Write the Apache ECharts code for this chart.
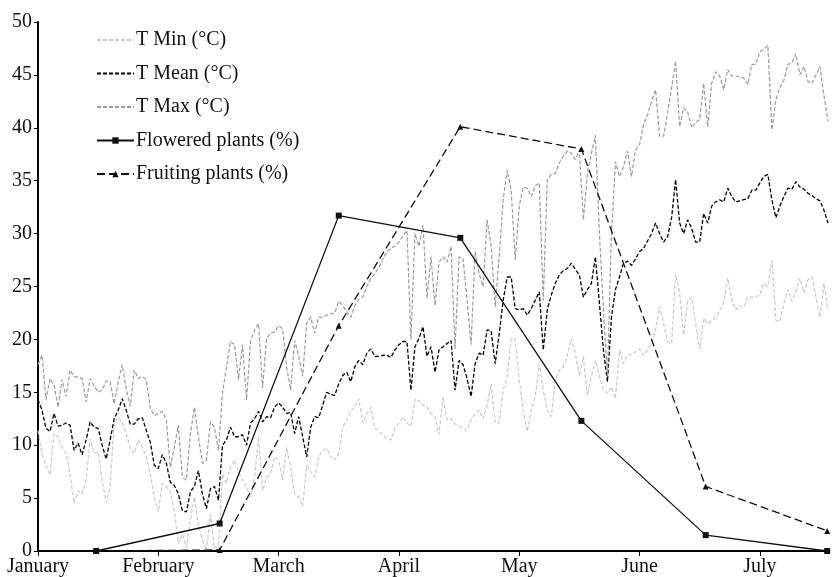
<!DOCTYPE html>
<html>
<head>
<meta charset="utf-8">
<script src="https://cdn.jsdelivr.net/npm/echarts@6/dist/echarts.min.js"></script>
<style>
  html, body { margin: 0; padding: 0; background: #fff; }
  #chart { width: 832px; height: 577px; }
</style>
</head>
<body>
<div id="chart"></div>
<script>
// month labels, one tick every 30 days
var months = ['January', 'February', 'March', 'April', 'May', 'June', 'July'];

// daily temperatures from 1 January, one value per day (°C)
var tMin = [11.4, 9.1, 8.0, 7.2, 11.1, 10.8, 9.8, 9.2, 7.3, 4.5, 5.7, 5.4, 6.7, 10.6, 9.2, 9.4, 6.7, 4.6, 6.1, 12.1,
    12.7, 12.1, 11.1, 9.7, 9.2, 10.5, 9.8, 8.9, 7.3, 5.1, 3.7, 6.4, 6.1, 5.6, 3.8, 0.7, 1.6,
    0.3, 3.0, 5.1, 2.5, 1.0, 0.0, 3.5, 0.2, 0.5, 7.3, 6.4, 7.9, 8.6, 7.5, 6.7, 6.1, 5.1, 7.0, 10.8, 5.7, 7.0, 7.3,
    8.9, 8.6, 6.7, 9.8, 7.9, 5.4, 5.1, 4.2, 8.1, 7.5, 7.0, 8.9, 9.5,
    9.7, 8.9, 8.6, 9.2, 11.7, 12.4, 13.2, 13.6, 14.4, 12.1, 13.0, 13.6, 11.6, 11.3, 11.0, 10.6, 10.5, 11.6, 12.1,
    12.7, 12.1, 11.8, 14.4, 14.2, 13.8, 13.6, 13.0, 12.7, 11.0, 14.6, 12.4, 12.5, 12.0, 11.8, 11.6, 11.4, 12.4,
    13.0, 13.3, 12.5, 13.8, 15.8, 12.1, 12.1, 15.2, 16.5, 20.1, 20.0, 16.2, 13.3, 11.3, 13.3, 14.6, 17.7, 15.2,
    13.3, 12.7, 16.2, 17.1, 17.4, 18.5, 20.1, 18.7, 16.5, 18.4, 14.7, 16.5, 18.0, 16.5, 15.2, 14.9, 15.5, 14.4,
    19.0, 17.7,
    18.5, 18.6, 18.8, 19.1, 18.5, 19.0, 19.6, 20.9, 23.1, 21.5, 19.8, 19.6, 26.2, 24.4, 20.4, 23.6, 24.0, 21.5,
    19.0, 22.0, 21.5, 21.8, 22.0, 22.8,
    23.5, 25.8, 23.7, 22.8, 23.2, 23.0, 24.0, 24.0, 24.0, 24.2, 25.3, 25.0, 27.5, 21.8, 21.7, 23.4, 24.7, 23.6,
    24.5, 25.8, 24.4, 25.6, 25.9, 24.0, 22.1, 25.3, 22.8];

var tMean = [14.3, 13.3, 11.6, 11.3, 13.0, 11.8, 11.9, 12.1, 11.9, 9.5, 10.2, 9.1, 10.5, 12.2, 11.7, 11.6, 10.0, 8.7,
    10.5, 12.5, 13.3, 14.4, 13.3, 12.0, 12.0, 12.5, 12.6, 11.4, 10.3, 8.1, 7.8, 9.1, 8.3, 6.5, 6.2, 5.4, 3.8,
    3.7, 5.6, 6.1, 7.6, 5.4, 4.0, 5.9, 6.1, 4.8, 10.0, 10.5, 11.7, 10.8, 10.8, 11.0, 10.0, 12.1, 12.5, 13.2, 12.2,
    12.7, 12.6, 13.6, 14.0, 13.6, 13.0, 13.1, 11.1, 12.7, 10.8, 8.9, 11.7, 12.7, 12.6, 13.8,
    15.0, 14.8, 14.7, 15.8, 16.6, 16.9, 16.0, 17.4, 18.0, 17.6, 18.7, 19.1, 18.4, 18.4, 18.5, 18.5, 18.3, 19.0,
    19.5, 19.8, 19.8, 15.2, 19.3, 20.1, 21.2, 18.4, 19.3, 16.9, 19.0, 19.3, 19.6, 19.9, 15.2, 18.0, 17.6, 16.3, 14.6,
    17.7, 18.7, 18.5, 20.9, 20.8, 17.7, 20.5, 23.7, 25.9, 25.9, 22.9, 22.8, 22.9, 22.3, 22.9, 23.7, 24.5, 19.0,
    22.8, 24.2, 25.3, 26.1, 26.5, 26.7, 27.2, 26.6, 26.1, 24.0, 24.7, 25.3, 27.8, 23.4, 19.0, 16.0, 22.1, 24.7,
    25.9, 27.2,
    27.4, 27.0, 27.6, 28.3, 28.6, 29.3, 30.0, 31.0, 30.0, 29.2, 29.7, 31.5, 35.1, 31.0, 30.0, 31.3, 30.5, 29.2,
    29.2, 31.9, 31.0, 32.6, 33.0, 33.2,
    33.0, 34.3, 33.5, 33.0, 33.1, 33.2, 33.3, 34.1, 34.1, 34.8, 35.4, 35.6, 33.2, 31.5, 32.6, 33.5, 34.3, 34.2,
    34.9, 34.4, 34.2, 33.8, 33.6, 33.3, 33.1, 32.2, 31.0];

var tMax = [17.6, 18.5, 14.3, 16.3, 15.7, 13.6, 16.2, 14.6, 17.1, 16.5, 16.4, 16.3, 14.1, 16.3, 15.6, 15.0, 15.2, 16.1,
    16.0, 13.9, 16.0, 17.6, 15.3, 13.7, 17.1, 16.3, 16.5, 16.2, 13.5, 12.8, 13.0, 13.2, 12.4, 7.9, 9.8, 11.9, 7.0,
    6.7, 11.0, 13.6, 10.8, 8.3, 8.6, 12.2, 11.7, 9.5, 14.9, 17.4, 19.8, 19.5, 16.2, 19.5, 14.3, 19.8, 20.9, 21.5,
    15.4, 20.1, 20.6, 20.7, 21.3, 21.0, 17.4, 15.2, 19.9, 18.4, 16.5, 21.5, 22.1, 20.6, 22.1, 22.1,
    22.3, 22.4, 22.5, 23.6, 23.2, 22.6, 22.1, 23.2, 23.8, 24.0, 25.0, 25.8, 26.2, 26.8, 27.6, 28.3, 28.6, 28.8,
    29.2, 29.8, 30.3, 20.0, 30.0, 28.8, 30.8, 23.9, 27.8, 23.2, 27.3, 27.8, 27.3, 28.8, 19.1, 27.8, 27.6, 23.7,
    19.5, 28.3,
    26.2, 25.0, 31.3, 28.8, 23.1, 27.8, 33.2, 36.0, 34.1, 27.5, 32.6, 34.4, 34.3, 33.5, 34.5, 34.8, 23.7, 35.1,
    35.6, 35.7, 36.7, 37.3, 37.8, 37.6, 37.0, 37.9, 31.3, 35.7, 37.6, 39.3, 30.0, 22.8, 16.5, 30.0, 36.8, 35.4, 36.3,
    37.8, 35.4, 37.9, 38.4, 40.3, 41.2, 42.5, 43.6, 39.2, 39.2, 41.4, 43.8, 46.3, 40.1, 41.9, 41.5, 40.0, 40.5,
    40.8, 44.2, 40.1, 44.2, 45.3, 44.9,
    43.6, 45.5, 44.9, 44.9, 44.8, 44.7, 44.1, 46.0, 46.0, 47.2, 47.4, 47.8, 39.8, 42.6, 43.8, 44.5, 46.0, 46.1,
    47.0, 45.0, 45.8, 44.4, 44.2, 45.0, 45.8, 43.0, 40.6];

// sampling days (days since 1 January) and percentages
var sampleDays = [14.5, 45.3, 75, 105.3, 135.5, 166.5, 196.8];
var flowered = [0, 2.6, 31.7, 29.6, 12.3, 1.5, 0];
var fruiting = [0, 0.1, 21.3, 40.1, 38.0, 6.1, 1.9];

function byDay(arr) {
    return arr.map(function (v, i) { return [i, v]; });
}
function bySample(arr) {
    return arr.map(function (v, i) { return [sampleDays[i], v]; });
}

var fontName = "'Liberation Serif', 'DejaVu Serif', serif";
var monthTicks = months.map(function (m, i) { return i * 30; });

var chart = echarts.init(document.getElementById('chart'), null, { renderer: 'canvas' });
var option = {
    animation: false,
    backgroundColor: '#fff',
    textStyle: { fontFamily: fontName },
    grid: {
        left: 38,
        right: 4,
        top: 22,
        bottom: 26
    },
    legend: {
        orient: 'vertical',
        left: 91,
        top: 25,
        itemWidth: 37,
        itemHeight: 8,
        itemGap: 13.5,
        textStyle: {
            fontFamily: fontName,
            fontSize: 20,
            color: '#111',
            padding: [0, 0, 0, -3]
        },
        data: [
            // temperature lines have no markers, so hide the legend marker
            { name: 'T Min (°C)', itemStyle: { opacity: 0 } },
            { name: 'T Mean (°C)', itemStyle: { opacity: 0 } },
            { name: 'T Max (°C)', itemStyle: { opacity: 0 } },
            'Flowered plants (%)',
            'Fruiting plants (%)'
        ]
    },
    xAxis: {
        type: 'value',
        min: 0,
        max: 197,
        interval: 30,
        splitLine: { show: false },
        axisLine: { lineStyle: { color: '#000', width: 2 } },
        axisTick: {
            show: true,
            length: 5,
            customValues: monthTicks,
            lineStyle: { color: '#000', width: 1 }
        },
        axisLabel: {
            customValues: monthTicks,
            margin: 6,
            color: '#111',
            fontFamily: fontName,
            fontSize: 20,
            formatter: function (v) { return months[Math.round(v / 30)] || ''; }
        }
    },
    yAxis: {
        type: 'value',
        min: 0,
        max: 50,
        interval: 5,
        splitLine: { show: false },
        axisLine: { show: true, lineStyle: { color: '#000', width: 2 } },
        axisTick: { show: true, length: 4, lineStyle: { color: '#000', width: 1 } },
        axisLabel: {
            margin: 6,
            color: '#111',
            fontFamily: fontName,
            fontSize: 20
        }
    },
    series: [
        {
            name: 'T Min (°C)',
            type: 'line',
            symbol: 'none',
            data: byDay(tMin),
            itemStyle: { color: '#c9c9c9' },
            lineStyle: { color: '#c9c9c9', width: 1.2, type: [4, 2] }
        },
        {
            name: 'T Mean (°C)',
            type: 'line',
            symbol: 'none',
            data: byDay(tMean),
            itemStyle: { color: '#000' },
            lineStyle: { color: '#000', width: 1.3, type: [4, 2] }
        },
        {
            name: 'T Max (°C)',
            type: 'line',
            symbol: 'none',
            data: byDay(tMax),
            itemStyle: { color: '#9a9a9a' },
            lineStyle: { color: '#9a9a9a', width: 1.2, type: [4, 2] }
        },
        {
            name: 'Flowered plants (%)',
            type: 'line',
            symbol: 'rect',
            symbolSize: 6,
            data: bySample(flowered),
            itemStyle: { color: '#111' },
            lineStyle: { color: '#111', width: 1.3, type: 'solid' }
        },
        {
            name: 'Fruiting plants (%)',
            type: 'line',
            symbol: 'triangle',
            symbolSize: 6,
            data: bySample(fruiting),
            itemStyle: { color: '#111' },
            lineStyle: { color: '#111', width: 1.3, type: [8, 4] }
        }
    ]
};
chart.setOption(option);
</script>
</body>
</html>
